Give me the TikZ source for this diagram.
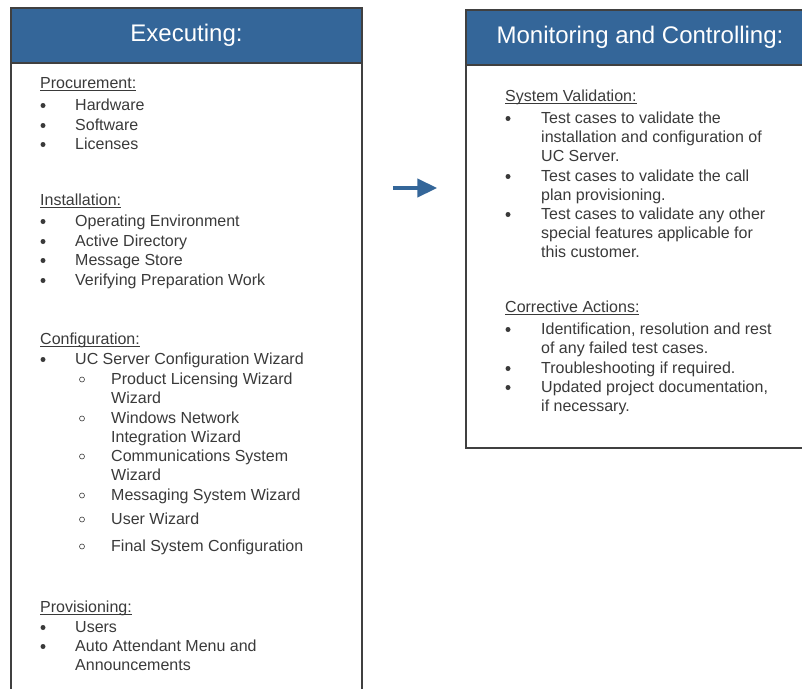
\documentclass[tikz,border=0pt]{standalone}
\usepackage{fontspec}
\setmainfont{Liberation Sans}
\usetikzlibrary{arrows.meta}

\definecolor{headblue}{RGB}{52,102,153}
\definecolor{txtgray}{RGB}{58,58,58}
\definecolor{framegray}{RGB}{64,64,64}
\newcommand{\ulhead}[1]{\setbox0\hbox{#1}\rlap{\rule[-2.6pt]{\wd0}{0.9pt}}\box0}
\newcommand{\lines}[1]{\begin{tabular}[t]{@{}l@{}}#1\end{tabular}}

\tikzset{
	box/.style={draw=framegray, line width=1.5pt, fill=white, inner sep=0pt},
	headbar/.style={box, fill=headblue, text=white, font=\fontsize{24}{28}\selectfont},
	heading/.style={anchor=base west, inner sep=0pt, text=txtgray, font=\fontsize{16}{19.3}\selectfont},
	item/.style={heading},
	dot/.style={fill=txtgray},
	ring/.style={draw=txtgray, line width=0.6pt},
	flow/.style={draw=headblue, line width=4.5pt, -{Triangle[length=20pt,width=18pt]}}
}

\begin{document}
\begin{tikzpicture}[x=1pt, y=-1pt]
	\useasboundingbox (0,0) rectangle (802,688);
	\clip (0,0) rectangle (802,688);

	% boxes
	\node[box, minimum width=351pt, minimum height=692pt] (exec) at (186.5,354) {};
	\node[headbar, minimum width=351pt, minimum height=55pt] (exec-title) at (186.5,35.5) {Executing:};
	\node[box, minimum width=348pt, minimum height=438pt] (mon) at (640,229) {};
	\node[headbar, minimum width=348pt, minimum height=55pt] (mon-title) at (640,37.5) {Monitoring and Controlling:};

	% arrow
	\coordinate (arr) at (0,188);
	\draw[flow, shorten <=30pt, shorten >=28pt] (exec.east |- arr) -- (mon.west |- arr);

	% executing
	\node[heading] (proc) at (40,88) {\ulhead{Procurement:}};
	\foreach \t/\y [count=\i] in {Hardware/110, Software/130, Licenses/149}{
		\fill[dot] (43,\y-4.5) circle (2.5pt);
		\node[item] (proc-\i) at (75,\y) {\lines{\t}};
	}
	\node[heading] (inst) at (40,205) {\ulhead{Installation:}};
	\foreach \t/\y [count=\i] in {Operating Environment/226, Active Directory/246,
		Message Store/265, Verifying Preparation Work/285}{
		\fill[dot] (43,\y-4.5) circle (2.5pt);
		\node[item] (inst-\i) at (75,\y) {\lines{\t}};
	}
	\node[heading] (conf) at (40,344) {\ulhead{Configuration:}};
	\fill[dot] (43,364-4.5) circle (2.5pt);
	\node[item] (conf-1) at (75,364) {UC Server Configuration Wizard};
	\foreach \t/\y [count=\i] in {{Product Licensing Wizard\\Wizard}/384,
		{Windows Network\\Integration Wizard}/423, {Communications System\\Wizard}/461,
		Messaging System Wizard/500, User Wizard/524, Final System Configuration/551}{
		\draw[ring] (82,\y-4.5) circle (2.5pt);
		\node[item] (wiz-\i) at (111,\y) {\lines{\t}};
	}
	\node[heading] (prov) at (40,612) {\ulhead{Provisioning:}};
	\foreach \t/\y [count=\i] in {Users/632, {Auto Attendant Menu and\\Announcements}/651}{
		\fill[dot] (43,\y-4.5) circle (2.5pt);
		\node[item] (prov-\i) at (75,\y) {\lines{\t}};
	}

	% monitoring and controlling
	\node[heading] (valid) at (505,101) {\ulhead{System Validation:}};
	\foreach \t/\y [count=\i] in {{Test cases to validate the\\installation and configuration of\\UC Server.}/123,
		{Test cases to validate the call\\plan provisioning.}/181,
		{Test cases to validate any other\\special features applicable for\\this customer.}/219}{
		\fill[dot] (508,\y-4.5) circle (2.5pt);
		\node[item] (valid-\i) at (541,\y) {\lines{\t}};
	}
	\node[heading] (corr) at (505,312) {\ulhead{Corrective Actions:}};
	\foreach \t/\y [count=\i] in {{Identification, resolution and rest\\of any failed test cases.}/334,
		Troubleshooting if required./373, {Updated project documentation,\\if necessary.}/392}{
		\fill[dot] (508,\y-4.5) circle (2.5pt);
		\node[item] (corr-\i) at (541,\y) {\lines{\t}};
	}
\end{tikzpicture}
\end{document}
